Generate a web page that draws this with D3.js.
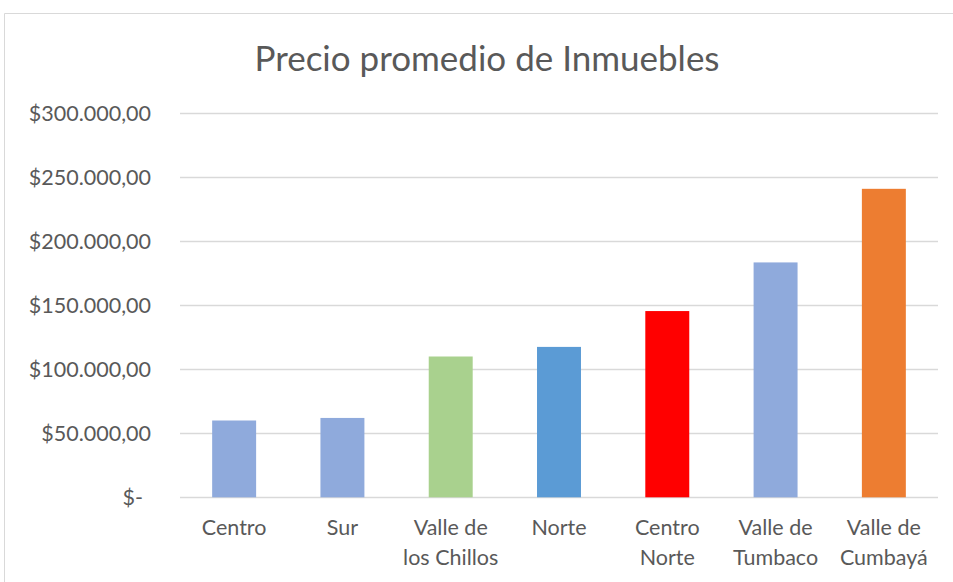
<!DOCTYPE html>
<html>
<head>
<meta charset="utf-8">
<script src="https://cdn.jsdelivr.net/npm/d3@7"></script>
<style>
body { margin: 0; background: #fff; }
svg text { font-family: Lato, "Open Sans", sans-serif; fill: #595959; }
</style>
</head>
<body>
<svg id="chart" width="953" height="582"></svg>
<script>
var categories = [["Centro"], ["Sur"], ["Valle de", "los Chillos"], ["Norte"], ["Centro", "Norte"], ["Valle de", "Tumbaco"], ["Valle de", "Cumbayá"]];
var prices = [60000, 62000, 110000, 117500, 145500, 183500, 241000];
var barColors = ["#8faadc", "#8faadc", "#a9d18e", "#5b9bd5", "#ff0000", "#8faadc", "#ed7d31"];
var yTicks = [0, 50000, 100000, 150000, 200000, 250000, 300000];
var yTickLabels = ["$-", "$50.000,00", "$100.000,00", "$150.000,00", "$200.000,00", "$250.000,00", "$300.000,00"];

var svg = d3.select("#chart");

// chart frame
svg.append("path")
	.attr("d", "M4.5,600 V13.5 H960")
	.attr("fill", "none")
	.attr("stroke", "#d9d9d9")
	.attr("stroke-width", 1);

var x = d3.scaleBand()
	.domain(d3.range(categories.length))
	.range([180, 938])
	.paddingInner(0.594)
	.paddingOuter(0.297);

var y = d3.scaleLinear()
	.domain([0, 300000])
	.range([497.3, 113.3]);

// gridlines
svg.append("g")
	.selectAll("line")
	.data(yTicks)
	.enter()
	.append("line")
	.attr("x1", 180)
	.attr("x2", 938)
	.attr("y1", function(d) { return Math.round(y(d)) + 0.5; })
	.attr("y2", function(d) { return Math.round(y(d)) + 0.5; })
	.attr("stroke", "#d9d9d9")
	.attr("stroke-width", 1.5);

// y labels
svg.append("g")
	.selectAll("text")
	.data(yTicks)
	.enter()
	.append("text")
	.attr("x", function(d, i) { return i == 0 ? 143 : 151; })
	.attr("y", function(d) { return y(d) + 7.5; })
	.attr("text-anchor", "end")
	.style("font-size", "21.5px")
	.text(function(d, i) { return yTickLabels[i]; });

// bars
svg.append("g")
	.selectAll("rect")
	.data(prices)
	.enter()
	.append("rect")
	.attr("x", function(d, i) { return x(i); })
	.attr("y", function(d) { return y(d); })
	.attr("width", x.bandwidth())
	.attr("height", function(d) { return y(0) - y(d); })
	.style("fill", function(d, i) { return barColors[i]; });

// x labels
var xl = svg.append("g")
	.selectAll("text")
	.data(categories)
	.enter()
	.append("text")
	.attr("text-anchor", "middle")
	.style("font-size", "21.5px");

xl.selectAll("tspan")
	.data(function(d, i) { return d.map(function(s) { return {s: s, i: i}; }); })
	.enter()
	.append("tspan")
	.attr("x", function(d) { return x(d.i) + x.bandwidth() / 2; })
	.attr("y", function(d, j) { return 535 + j * 30; })
	.text(function(d) { return d.s; });

// title
svg.append("text")
	.attr("x", 487)
	.attr("y", 71)
	.attr("text-anchor", "middle")
	.style("font-size", "35px")
	.text("Precio promedio de Inmuebles");
</script>
</body>
</html>
